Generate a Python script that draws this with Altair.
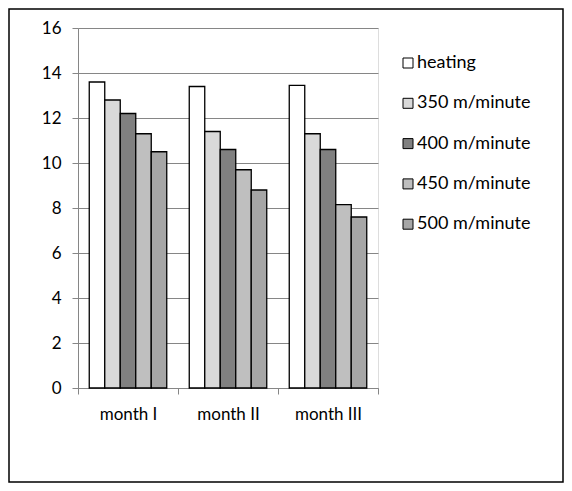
import altair as alt
import pandas as pd

months = ["month I", "month II", "month III"]
series = ["heating", "350 m/minute", "400 m/minute", "450 m/minute", "500 m/minute"]
colors = ["#ffffff", "#d9d9d9", "#808080", "#bfbfbf", "#a6a6a6"]
values = {
    "heating":      [13.6, 13.4, 13.45],
    "350 m/minute": [12.8, 11.4, 11.3],
    "400 m/minute": [12.2, 10.6, 10.6],
    "450 m/minute": [11.3, 9.7, 8.15],
    "500 m/minute": [10.5, 8.8, 7.6],
}
y_ticks = [0, 2, 4, 6, 8, 10, 12, 14, 16]

rows = []
for s in series:
    for m, v in zip(months, values[s]):
        rows.append({"month": m, "series": s, "value": v})
df = pd.DataFrame(rows)

FONT = "Lato"
FS = 17

bars = alt.Chart(df).mark_bar(stroke="black", strokeWidth=1.3).encode(
    x=alt.X("month:N", sort=months, title=None,
            scale=alt.Scale(paddingInner=0, paddingOuter=0),
            axis=alt.Axis(labelAngle=0, tickBand="extent", domainColor="#868686",
                          tickColor="#868686", tickSize=6, labelPadding=12,
                          labelFont=FONT, labelFontSize=FS, labelColor="#000000",
                          grid=False)),
    xOffset=alt.XOffset("series:N", sort=series,
                        scale=alt.Scale(paddingInner=0, paddingOuter=0.726)),
    y=alt.Y("value:Q", title=None,
            scale=alt.Scale(domain=[0, 16], nice=False),
            axis=alt.Axis(values=y_ticks, domainColor="#868686", tickColor="#868686",
                          tickSize=6, labelPadding=11, gridColor="#868686",
                          gridWidth=1, labelFont=FONT, labelFontSize=FS,
                          labelColor="#000000")),
    color=alt.Color("series:N", sort=series,
                    scale=alt.Scale(domain=series, range=colors),
                    legend=alt.Legend(title=None, orient="none", legendX=321, legendY=26,
                                      symbolType="square", symbolSize=100,
                                      symbolStrokeColor="black", symbolStrokeWidth=1,
                                      labelFont=FONT, labelFontSize=18, labelColor="#000000",
                                      rowPadding=22.3, labelOffset=0, padding=0)),
)

border = alt.Chart(alt.Data(values=[{"a": 1}])).mark_rect(
    fill=None, stroke="black", strokeWidth=1.5
).encode(
    x=alt.value(-69), x2=alt.value(485),
    y=alt.value(-19), y2=alt.value(454),
)

chart = alt.layer(border, bars).properties(
    width=300, height=360, padding=0
).configure_view(stroke=None).configure(background="white")

chart.save("out.html", embed_options={"renderer": "svg", "actions": False})
